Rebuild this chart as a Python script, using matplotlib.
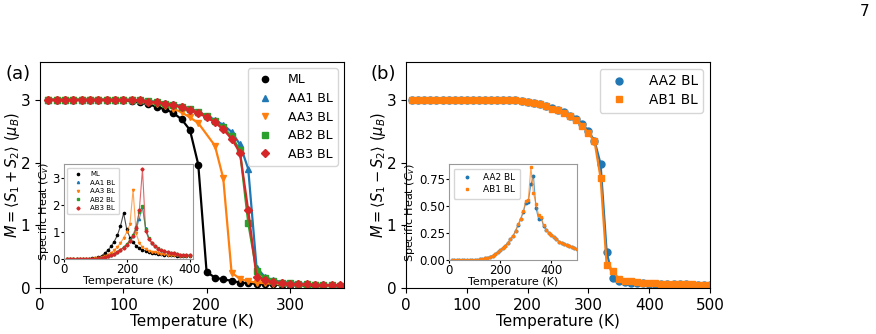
import numpy as np
import matplotlib
matplotlib.use("Agg")
import matplotlib.pyplot as plt

# Datos panel (a): magnetizacion M = <S1 + S2>
T_a = list(range(10, 370, 10))
T_aa3 = [t for t in T_a if t != 200]
m_ml = [3.0] * 9 + [2.995, 2.98, 2.96, 2.93, 2.89, 2.85, 2.79, 2.69, 2.52, 1.97, 0.26, 0.17, 0.14,
                      0.12, 0.09, 0.08, 0.07, 0.06, 0.06, 0.05, 0.05, 0.05, 0.04, 0.04, 0.04, 0.04, 0.03]
m_aa1 = [3.0] * 11 + [2.99, 2.98, 2.97, 2.95, 2.93, 2.9, 2.86, 2.81, 2.75, 2.68, 2.6, 2.49, 2.29, 1.9,
                       0.33, 0.18, 0.13, 0.1, 0.09, 0.08, 0.07, 0.06, 0.06, 0.05, 0.05]
m_aa3 = [3.0] * 10 + [2.99, 2.98, 2.96, 2.93, 2.9, 2.86, 2.8, 2.72, 2.63, 2.27, 1.75, 0.25, 0.15,
                       0.11, 0.09, 0.08, 0.07, 0.06, 0.06, 0.05, 0.05, 0.05, 0.04, 0.04, 0.04]
m_ab2 = [3.0] * 11 + [2.99, 2.98, 2.96, 2.94, 2.92, 2.89, 2.85, 2.8, 2.74, 2.66, 2.56, 2.42, 2.2, 1.04,
                       0.27, 0.17, 0.12, 0.09, 0.08, 0.07, 0.06, 0.05, 0.05, 0.05, 0.04]
m_ab3 = [3.0] * 11 + [2.99, 2.97, 2.96, 2.94, 2.91, 2.88, 2.84, 2.79, 2.72, 2.64, 2.53, 2.38, 2.16, 1.24,
                       0.18, 0.13, 0.1, 0.08, 0.07, 0.06, 0.06, 0.05, 0.05, 0.05, 0.05]

# Calor especifico panel (a)
T_ai = list(range(10, 410, 10))
cv_ml = [0.0, 0.0, 0.0, 0.0, 0.0, 0.01, 0.01, 0.02, 0.03, 0.05, 0.08, 0.12, 0.22, 0.33, 0.47, 0.65,
         0.88, 1.22, 1.7, 1.1, 0.8, 0.62, 0.5, 0.4, 0.34, 0.3, 0.27, 0.24, 0.22, 0.2, 0.19, 0.17,
         0.16, 0.15, 0.14, 0.13, 0.12, 0.11, 0.11, 0.1]
cv_aa1 = [0.0, 0.0, 0.0, 0.0, 0.0, 0.0, 0.0, 0.01, 0.01, 0.02, 0.03, 0.05, 0.07, 0.1, 0.15, 0.2,
          0.27, 0.35, 0.44, 0.55, 0.68, 0.85, 1.1, 1.5, 1.92, 1.15, 0.8, 0.6, 0.48, 0.4, 0.34, 0.3,
          0.26, 0.23, 0.21, 0.19, 0.17, 0.16, 0.15, 0.14]
cv_aa3 = [0.0, 0.0, 0.0, 0.0, 0.0, 0.0, 0.01, 0.01, 0.02, 0.03, 0.05, 0.08, 0.12, 0.17, 0.24, 0.33,
          0.45, 0.6, 0.78, 1.0, 1.28, 2.55, 0.95, 0.6, 0.45, 0.37, 0.32, 0.28, 0.25, 0.22, 0.2, 0.19,
          0.17, 0.16, 0.15, 0.14, 0.13, 0.12, 0.12, 0.11]
cv_ab2 = [0.0, 0.0, 0.0, 0.0, 0.0, 0.0, 0.0, 0.01, 0.01, 0.02, 0.03, 0.05, 0.07, 0.1, 0.15, 0.2,
          0.27, 0.35, 0.44, 0.56, 0.7, 0.9, 1.2, 1.75, 1.96, 1.1, 0.78, 0.6, 0.48, 0.4, 0.34, 0.3,
          0.26, 0.23, 0.21, 0.19, 0.17, 0.16, 0.15, 0.14]
cv_ab3 = [0.0, 0.0, 0.0, 0.0, 0.0, 0.0, 0.0, 0.01, 0.01, 0.02, 0.03, 0.05, 0.07, 0.1, 0.14, 0.2,
          0.26, 0.34, 0.42, 0.52, 0.66, 0.85, 1.15, 1.8, 3.32, 1.05, 0.75, 0.58, 0.47, 0.39, 0.34, 0.3,
          0.26, 0.23, 0.21, 0.19, 0.17, 0.16, 0.15, 0.14]

# Datos panel (b): M = <S1 - S2>
T_b = list(range(10, 510, 10))
m_aa2 = [3.0] * 15 + [2.995, 2.99, 2.99, 2.98, 2.97, 2.95, 2.93, 2.9, 2.87, 2.83, 2.8, 2.75, 2.69, 2.62,
                       2.5, 2.35, 1.98, 0.58, 0.16, 0.12, 0.1, 0.09, 0.08, 0.08, 0.07, 0.07, 0.07, 0.06,
                       0.06, 0.06, 0.06, 0.05, 0.05, 0.05, 0.05]
m_ab1 = [3.0] * 15 + [2.995, 2.99, 2.99, 2.98, 2.97, 2.95, 2.93, 2.9, 2.86, 2.83, 2.79, 2.75, 2.68, 2.59,
                       2.47, 2.34, 1.76, 0.37, 0.28, 0.15, 0.12, 0.11, 0.1, 0.09, 0.08, 0.08, 0.07, 0.07,
                       0.07, 0.06, 0.06, 0.06, 0.05, 0.05, 0.05]

# Calor especifico panel (b)
cv_aa2 = [0.0] * 10 + [0.002, 0.004, 0.008, 0.013, 0.02, 0.03, 0.04, 0.055, 0.07, 0.09, 0.11, 0.13,
                        0.16, 0.19, 0.22, 0.27, 0.32, 0.38, 0.44, 0.53, 0.54, 0.7, 0.78, 0.48, 0.38, 0.39,
                        0.31, 0.28, 0.25, 0.23, 0.21, 0.19, 0.17, 0.16, 0.15, 0.14, 0.13, 0.12, 0.11, 0.1]
cv_ab1 = [0.0] * 10 + [0.002, 0.004, 0.008, 0.013, 0.02, 0.03, 0.04, 0.055, 0.07, 0.09, 0.11, 0.13,
                        0.16, 0.19, 0.22, 0.27, 0.33, 0.38, 0.45, 0.55, 0.56, 0.86, 0.62, 0.52, 0.42, 0.4,
                        0.32, 0.28, 0.25, 0.23, 0.21, 0.19, 0.17, 0.16, 0.15, 0.14, 0.13, 0.12, 0.11, 0.1]

c_blue, c_orange, c_green, c_red = "#1f77b4", "#ff7f0e", "#2ca02c", "#d62728"

fig = plt.figure(figsize=(8.76, 3.34), dpi=100)

# --- Panel (a) ---
ax1 = fig.add_axes([0.0457, 0.137, 0.347, 0.677])
series_a = [
    (T_a, m_ml, "k", "o", "ML"),
    (T_a, m_aa1, c_blue, "^", "AA1 BL"),
    (T_aa3, m_aa3, c_orange, "v", "AA3 BL"),
    (T_a, m_ab2, c_green, "s", "AB2 BL"),
    (T_a, m_ab3, c_red, "D", "AB3 BL"),
]
for t, m, c, mk, lab in series_a:
    ax1.plot(t, m, color=c, lw=1.6)
    ax1.plot(t, m, ls="none", color=c, marker=mk, ms=4.5, label=lab)
ax1.set_xlim(0, 365)
ax1.set_ylim(0, 3.6)
ax1.set_xticks([0, 100, 200, 300])
ax1.set_yticks([0, 1, 2, 3])
ax1.tick_params(labelsize=11)
ax1.set_xlabel("Temperature (K)", fontsize=11, labelpad=1)
ax1.set_ylabel(r"$M = \langle S_1 + S_2 \rangle$ ($\mu_B$)", fontsize=10.5)
ax1.yaxis.set_label_coords(-0.058, 0.5)
ax1.legend(loc="upper right", fontsize=9, labelspacing=0.45)

ins1 = fig.add_axes([0.073, 0.224, 0.147, 0.284])
series_ai = [
    (cv_ml, "k", "o", "ML"),
    (cv_aa1, c_blue, "^", "AA1 BL"),
    (cv_aa3, c_orange, "v", "AA3 BL"),
    (cv_ab2, c_green, "s", "AB2 BL"),
    (cv_ab3, c_red, "D", "AB3 BL"),
]
for cv, c, mk, lab in series_ai:
    ins1.plot(T_ai, cv, color=c, lw=0.8, alpha=0.7)
    ins1.plot(T_ai, cv, ls="none", color=c, marker=mk, ms=1.6, label=lab)
ins1.set_xlim(0, 410)
ins1.set_ylim(0, 3.5)
ins1.set_xticks([0, 200, 400])
ins1.set_yticks([0, 1, 2, 3])
ins1.tick_params(labelsize=8.5, length=2, pad=1)
ins1.set_xlabel("Temperature (K)", fontsize=8, labelpad=0)
ins1.set_ylabel(r"Specific Heat ($C_v$)", fontsize=8, labelpad=1)
ins1.legend(loc="upper left", fontsize=5, handletextpad=0.8, labelspacing=0.35, borderpad=0.5)
for s in ins1.spines.values():
    s.set_color("#999999")

# --- Panel (b) ---
ax2 = fig.add_axes([0.4635, 0.137, 0.347, 0.677])
ax2.plot(T_b, m_aa2, color=c_blue, lw=1.6)
ax2.plot(T_b, m_aa2, ls="none", color=c_blue, marker="o", ms=5, label="AA2 BL")
ax2.plot(T_b, m_ab1, color=c_orange, lw=1.6)
ax2.plot(T_b, m_ab1, ls="none", color=c_orange, marker="s", ms=5, label="AB1 BL")
ax2.set_xlim(0, 500)
ax2.set_ylim(0, 3.6)
ax2.set_xticks([0, 100, 200, 300, 400, 500])
ax2.set_yticks([0, 1, 2, 3])
ax2.tick_params(labelsize=11)
ax2.set_xlabel("Temperature (K)", fontsize=11, labelpad=1)
ax2.set_ylabel(r"$M = \langle S_1 - S_2 \rangle$ ($\mu_B$)", fontsize=10.5)
ax2.yaxis.set_label_coords(-0.058, 0.5)
ax2.legend(loc="upper right", fontsize=9.8, handletextpad=1.2, labelspacing=0.35)

ins2 = fig.add_axes([0.5126, 0.222, 0.146, 0.287])
ins2.plot(T_b, cv_aa2, color=c_blue, lw=0.8, alpha=0.7)
ins2.plot(T_b, cv_aa2, ls="none", color=c_blue, marker="o", ms=1.8, label="AA2 BL")
ins2.plot(T_b, cv_ab1, color=c_orange, lw=0.8, alpha=0.7)
ins2.plot(T_b, cv_ab1, ls="none", color=c_orange, marker="s", ms=1.8, label="AB1 BL")
ins2.set_xlim(0, 500)
ins2.set_ylim(0, 0.89)
ins2.set_xticks([0, 200, 400])
ins2.set_yticks([0, 0.25, 0.5, 0.75])
ins2.tick_params(labelsize=8.5, length=2, pad=1)
ins2.set_xlabel("Temperature (K)", fontsize=8, labelpad=0)
ins2.set_ylabel(r"Specific Heat ($C_v$)", fontsize=8, labelpad=1)
ins2.legend(loc="upper left", fontsize=6.5, handletextpad=0.8, labelspacing=0.35, borderpad=0.5)
for s in ins2.spines.values():
    s.set_color("#999999")

fig.text(0.006, 0.777, "(a)", fontsize=13, va="center")
fig.text(0.4235, 0.777, "(b)", fontsize=13, va="center")
fig.text(0.993, 0.965, "7", fontsize=11, ha="right", va="center")

fig.savefig("out.png", dpi=100)
